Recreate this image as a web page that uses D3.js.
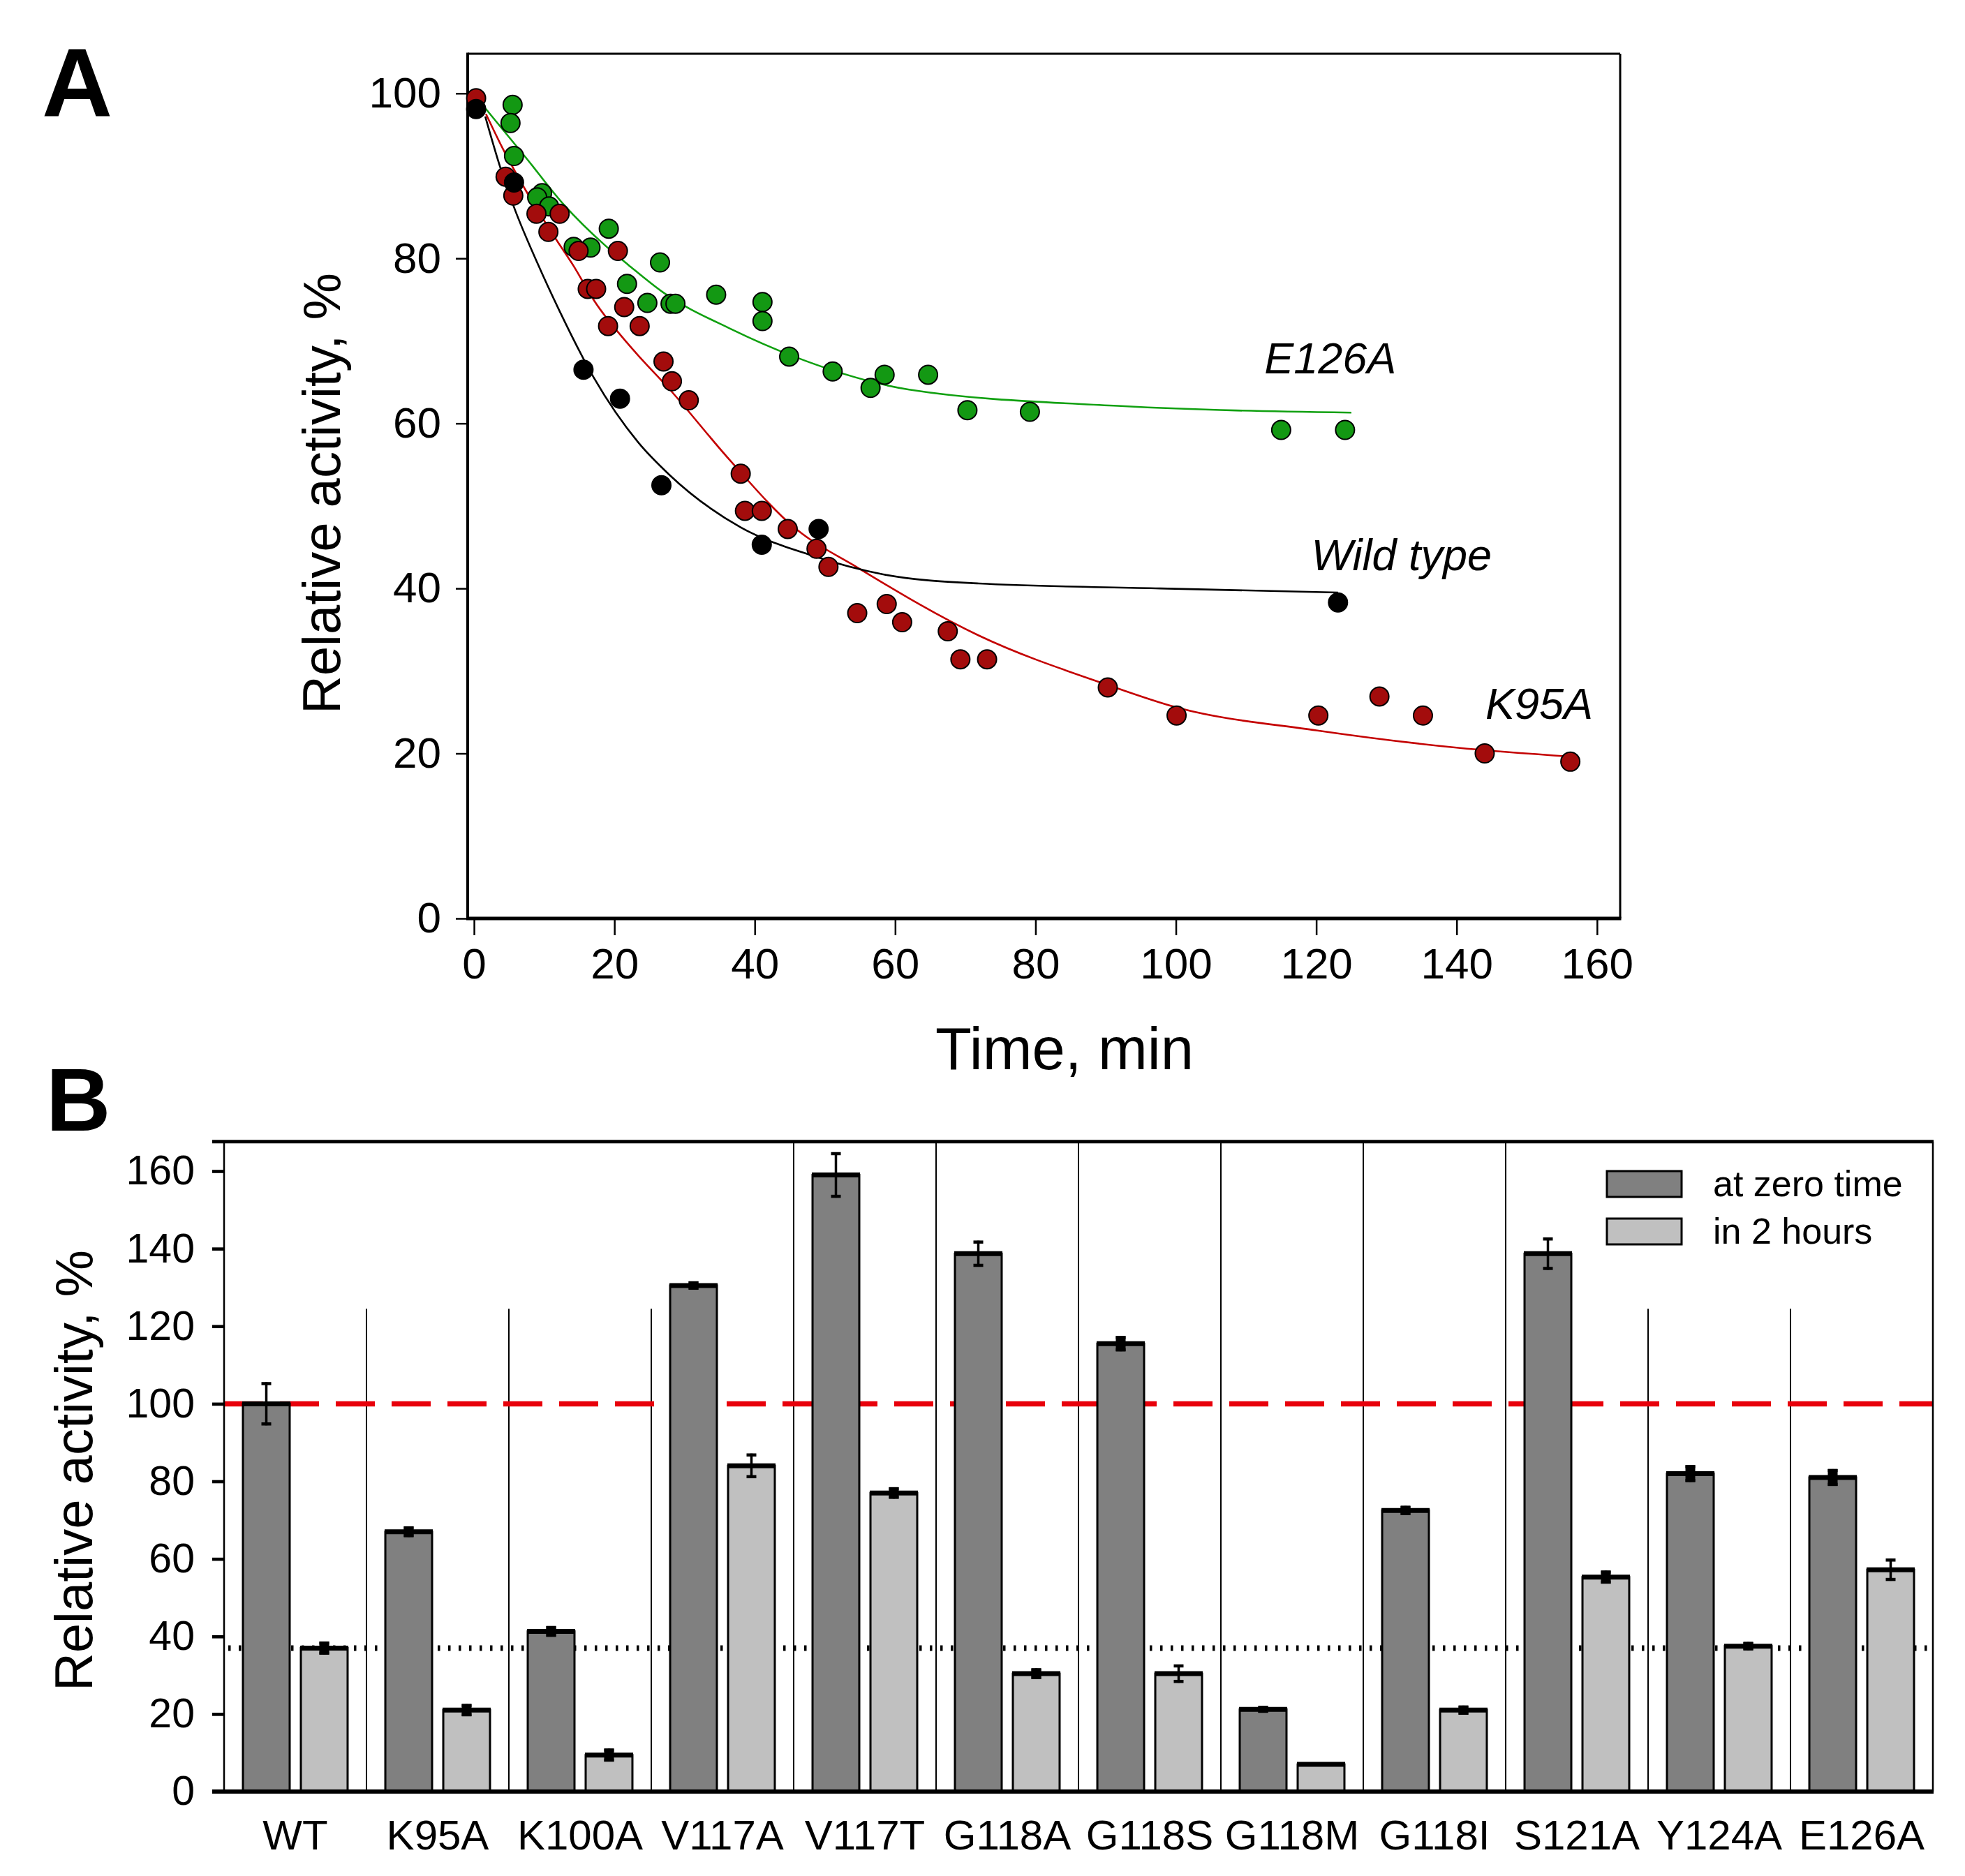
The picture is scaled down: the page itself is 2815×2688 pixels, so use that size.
<!DOCTYPE html>
<html><head><meta charset="utf-8">
<script src="https://cdn.jsdelivr.net/npm/d3@7/dist/d3.min.js"></script>
<style>html,body{margin:0;padding:0;background:#fff;} svg{display:block;} text{font-family:"Liberation Sans",Arial,Helvetica,sans-serif;}</style>
</head><body>
<svg id="chart" width="2815" height="2688"></svg>
<script>
// ---------- Panel A data (time, relative activity %) ----------
const timeTicks = [0, 20, 40, 60, 80, 100, 120, 140, 160];
const activityTicksA = [0, 20, 40, 60, 80, 100];
const e126aPoints = [[5.5,98.6],[5.2,96.4],[5.7,92.4],[9.7,87.9],[9.0,87.4],[10.7,86.3],[19.2,83.6],[14.2,81.4],[16.6,81.3],[26.5,79.5],[21.8,76.9],[24.7,74.6],[28.0,74.5],[28.7,74.5],[34.5,75.6],[41.1,74.7],[41.1,72.4],[44.9,68.1],[51.1,66.3],[56.5,64.3],[58.5,65.9],[64.7,65.9],[70.3,61.6],[79.2,61.4],[115.0,59.2],[124.1,59.2]];
const k95aPoints = [[0.3,99.4],[4.5,89.9],[5.6,87.6],[8.9,85.4],[12.2,85.4],[10.6,83.2],[14.9,80.9],[20.5,80.9],[16.2,76.3],[17.4,76.3],[21.4,74.1],[19.1,71.8],[23.6,71.8],[27.0,67.5],[28.2,65.1],[30.6,62.8],[38.0,53.9],[38.6,49.4],[41.0,49.4],[44.7,47.2],[48.8,44.8],[50.5,42.6],[54.6,37.0],[58.8,38.1],[61.0,35.9],[67.5,34.8],[69.3,31.4],[73.1,31.4],[90.3,28.0],[100.1,24.6],[120.3,24.6],[129.0,26.9],[135.2,24.6],[144.0,20.0],[156.2,19.0]];
const wtPoints = [[0.3,98.1],[5.7,89.2],[15.6,66.5],[20.8,63.0],[26.7,52.5],[41.0,45.3],[49.1,47.2],[123.1,38.3]];
// fitted curves
const e126aCurve = [[1.6,98.2],[7.4,92.2],[12.7,86.6],[18.9,81.4],[22.0,79.2],[26.9,75.9],[36.7,71.4],[45.6,68.1],[62.0,64.1],[92.2,62.1],[125.0,61.3]];
const k95aCurve = [[1.7,97.5],[4.1,93.3],[7.4,88.2],[11.7,82.3],[14.1,79.2],[17.1,74.9],[22.7,68.9],[27.8,64.2],[36.5,55.5],[45.6,47.4],[54.7,42.5],[71.9,34.3],[90.3,28.3],[100.0,25.6],[120.0,22.8],[140.0,20.7],[156.5,19.6]];
const wtCurve = [[1.6,97.2],[3.75,91.0],[5.7,86.2],[9.05,79.4],[12.2,73.6],[17.1,65.5],[23.4,57.7],[27.8,53.8],[38.0,47.4],[48.1,44.0],[58.3,41.7],[71.9,40.6],[97.8,40.0],[123.1,39.5]];
const seriesNames = ["E126A", "Wild type", "K95A"];

// ---------- Panel B data ----------
const mutants = ["WT","K95A","K100A","V117A","V117T","G118A","G118S","G118M","G118I","S121A","Y124A","E126A"];
const zeroTime = [100, 67, 41.3, 130.5, 159, 138.7, 115.5, 21.2, 72.5, 138.7, 82, 81];
const zeroTimeErr = [5.2, 1, 1, 0.7, 5.5, 3, 1.6, 0.5, 0.8, 3.8, 1.8, 1.8];
const twoHours = [37, 21, 9.4, 84, 77, 30.4, 30.4, 7, 21, 55.3, 37.5, 57.2];
const twoHoursErr = [1.3, 1.2, 1.3, 2.8, 1.1, 1, 2, 0, 0.8, 1.3, 0.7, 2.5];
const activityTicksB = [0, 20, 40, 60, 80, 100, 120, 140, 160];
const legendLabels = ["at zero time", "in 2 hours"];
const referenceLevels = [100, 37]; // red dashed (WT at zero time), dotted (WT in 2 hours)
const separatorTops = [124.5, 124.5, 124.5, null, null, null, null, null, null, 124.5, 124.5];

const svg = d3.select("#chart");
svg.append("rect").attr("width", 2815).attr("height", 2688).attr("fill", "#fff");
const FONT = '"Liberation Sans",Arial,Helvetica,sans-serif';

// ================= PANEL A =================
const xA = d3.scaleLinear().domain([-0.9, 163.3]).range([670, 2321]);
const yA = d3.scaleLinear().domain([0, 104.8]).range([1316, 77]);
const gA = svg.append("g");

gA.append("text").attr("x", 60).attr("y", 167).attr("font-size", 140).attr("font-weight", "bold").text("A");

// frame
gA.append("line").attr("x1", xA.range()[0]).attr("x2", xA.range()[1]).attr("y1", yA.range()[1]).attr("y2", yA.range()[1]).attr("stroke", "#000").attr("stroke-width", 3);
gA.append("line").attr("x1", xA.range()[1]).attr("x2", xA.range()[1]).attr("y1", yA.range()[1]).attr("y2", yA.range()[0]).attr("stroke", "#000").attr("stroke-width", 3);

const axA_left = gA.append("g").attr("transform", `translate(${xA.range()[0]},0)`)
  .call(d3.axisLeft(yA).tickValues(activityTicksA).tickSize(17).tickPadding(21).tickFormat(d3.format("d")));
const axA_bot = gA.append("g").attr("transform", `translate(0,${yA.range()[0]})`)
  .call(d3.axisBottom(xA).tickValues(timeTicks).tickSize(24).tickPadding(18).tickFormat(d3.format("d")));
[axA_left, axA_bot].forEach(a => {
  a.select(".domain").remove();
  a.selectAll("text").attr("font-size", 62).attr("font-family", FONT).attr("fill", "#000");
  a.selectAll(".tick line").attr("stroke", "#000").attr("stroke-width", 2.5);
});
gA.append("line").attr("x1", xA.range()[0]).attr("x2", xA.range()[0]).attr("y1", yA.range()[1] - 1.5).attr("y2", yA.range()[0]).attr("stroke", "#000").attr("stroke-width", 4);
gA.append("line").attr("x1", xA.range()[0] - 2).attr("x2", xA.range()[1] + 1.5).attr("y1", yA.range()[0]).attr("y2", yA.range()[0]).attr("stroke", "#000").attr("stroke-width", 5);

// axis titles
gA.append("text").attr("transform", `translate(487,707) rotate(-90)`).attr("text-anchor", "middle").attr("font-size", 76).text("Relative activity, %");
gA.append("text").attr("x", 1525).attr("y", 1532).attr("text-anchor", "middle").attr("font-size", 85).text("Time, min");

// curves
const lineA = d3.line().x(d => xA(d[0])).y(d => yA(d[1])).curve(d3.curveMonotoneX);
const curveDefs = [
  {data: e126aCurve, color: "#10a010"},
  {data: k95aCurve, color: "#c40000"},
  {data: wtCurve, color: "#000"}
];
curveDefs.forEach(c => gA.append("path").attr("d", lineA(c.data)).attr("fill", "none").attr("stroke", c.color).attr("stroke-width", 2.6));

// points (green, red, black order)
const pointDefs = [
  {data: e126aPoints, color: "#139813"},
  {data: k95aPoints, color: "#a30c0c"},
  {data: wtPoints, color: "#000"}
];
pointDefs.forEach(p => {
  gA.append("g").selectAll("circle").data(p.data).join("circle")
    .attr("cx", d => xA(d[0])).attr("cy", d => yA(d[1])).attr("r", 13.5)
    .attr("fill", p.color).attr("stroke", "#000").attr("stroke-width", 2);
});

// series labels (anchored in data coordinates)
const labelAnchors = [[112.6, 66.1], [119.3, 42.2], [144.1, 24.2]];
seriesNames.forEach((n, i) => {
  gA.append("text").attr("x", xA(labelAnchors[i][0])).attr("y", yA(labelAnchors[i][1]))
    .attr("font-size", 63).attr("font-style", "italic").text(n);
});

// ================= PANEL B =================
const xB = d3.scaleBand().domain(mutants).range([321, 2769]).paddingInner(0).paddingOuter(0);
const xSub = d3.scaleBand().domain(["zero", "two"]).range([0, xB.bandwidth()]).paddingInner(0.193).paddingOuter(0.3256);
const yB = d3.scaleLinear().domain([0, 160]).range([2567, 1678]);
const topB = yB(167.6);
const gB = svg.append("g");

gB.append("text").attr("x", 66).attr("y", 1620).attr("font-size", 128).attr("font-weight", "bold").text("B");

// separators
separatorTops.forEach((t, i) => {
  const x = xB(mutants[i + 1]);
  gB.append("line").attr("x1", x).attr("x2", x).attr("y1", t == null ? topB : yB(t)).attr("y2", yB(0))
    .attr("stroke", "#000").attr("stroke-width", 2);
});

// reference lines
gB.append("line").attr("x1", xB.range()[0]).attr("x2", xB.range()[1]).attr("y1", yB(referenceLevels[0])).attr("y2", yB(referenceLevels[0]))
  .attr("stroke", "#e8000b").attr("stroke-width", 7.5).attr("stroke-dasharray", "56 24");
gB.append("line").attr("x1", xB.range()[0] + 6).attr("x2", xB.range()[1]).attr("y1", yB(referenceLevels[1])).attr("y2", yB(referenceLevels[1]))
  .attr("stroke", "#000").attr("stroke-width", 8).attr("stroke-dasharray", "3.5 11.5");

// bars
const barSeries = [
  {key: "zero", vals: zeroTime, errs: zeroTimeErr, fill: "#808080"},
  {key: "two", vals: twoHours, errs: twoHoursErr, fill: "#c0c0c0"}
];
barSeries.forEach(s => {
  const g = gB.append("g");
  mutants.forEach((m, i) => {
    const x0 = xB(m) + xSub(s.key), w = xSub.bandwidth(), v = s.vals[i], e = s.errs[i];
    g.append("rect").attr("x", x0).attr("y", yB(v)).attr("width", w).attr("height", yB(0) - yB(v))
      .attr("fill", s.fill).attr("stroke", "#000").attr("stroke-width", 3);
    g.append("line").attr("x1", x0 - 1).attr("x2", x0 + w + 1).attr("y1", yB(v)).attr("y2", yB(v))
      .attr("stroke", "#000").attr("stroke-width", 7);
    const cx = x0 + w / 2;
    if (e > 0) {
      g.append("line").attr("x1", cx).attr("x2", cx).attr("y1", yB(v + e) - 2).attr("y2", yB(v - e) + 2).attr("stroke", "#000").attr("stroke-width", 3.5);
      [v + e, v - e].forEach(c => g.append("line").attr("x1", cx - 7).attr("x2", cx + 7).attr("y1", yB(c)).attr("y2", yB(c)).attr("stroke", "#000").attr("stroke-width", 4.5));
      if (e < 2) g.append("rect").attr("x", cx - 7).attr("y", yB(v + e) - 2).attr("width", 14).attr("height", yB(v - e) - yB(v + e) + 4).attr("fill", "#000");
    }
  });
});

// axes
const axB_left = gB.append("g").attr("transform", `translate(${xB.range()[0]},0)`)
  .call(d3.axisLeft(yB).tickValues(activityTicksB).tickSize(17).tickPadding(25).tickFormat(d3.format("d")));
axB_left.select(".domain").remove();
axB_left.selectAll("text").attr("font-size", 59).attr("font-family", FONT).attr("fill", "#000");
axB_left.selectAll(".tick line").attr("stroke", "#000").attr("stroke-width", 4.6);

const axB_bot = gB.append("g").attr("transform", `translate(0,${yB(0)})`)
  .call(d3.axisBottom(xB).tickSize(0).tickPadding(40));
axB_bot.select(".domain").remove();
axB_bot.selectAll("text").attr("font-size", 60).attr("font-family", FONT).attr("fill", "#000");

gB.append("line").attr("x1", xB.range()[0]).attr("x2", xB.range()[0]).attr("y1", topB).attr("y2", yB(0)).attr("stroke", "#000").attr("stroke-width", 2.5);
gB.append("line").attr("x1", xB.range()[1]).attr("x2", xB.range()[1]).attr("y1", topB).attr("y2", yB(0)).attr("stroke", "#000").attr("stroke-width", 2.5);
gB.append("line").attr("x1", 304).attr("x2", xB.range()[1] + 1).attr("y1", topB).attr("y2", topB).attr("stroke", "#000").attr("stroke-width", 5);
gB.append("line").attr("x1", 304).attr("x2", xB.range()[1] + 1).attr("y1", yB(0)).attr("y2", yB(0)).attr("stroke", "#000").attr("stroke-width", 6);

gB.append("text").attr("transform", `translate(132,2107) rotate(-90)`).attr("text-anchor", "middle").attr("font-size", 76).text("Relative activity, %");

// legend
const legFills = ["#808080", "#c0c0c0"];
legendLabels.forEach((l, i) => {
  const y0 = 1678 + i * 68;
  gB.append("rect").attr("x", 2302).attr("y", y0).attr("width", 107).attr("height", 37)
    .attr("fill", legFills[i]).attr("stroke", "#000").attr("stroke-width", 3);
  gB.append("text").attr("x", 2454).attr("y", y0 + 36).attr("font-size", 52).text(l);
});
</script>
</body></html>
